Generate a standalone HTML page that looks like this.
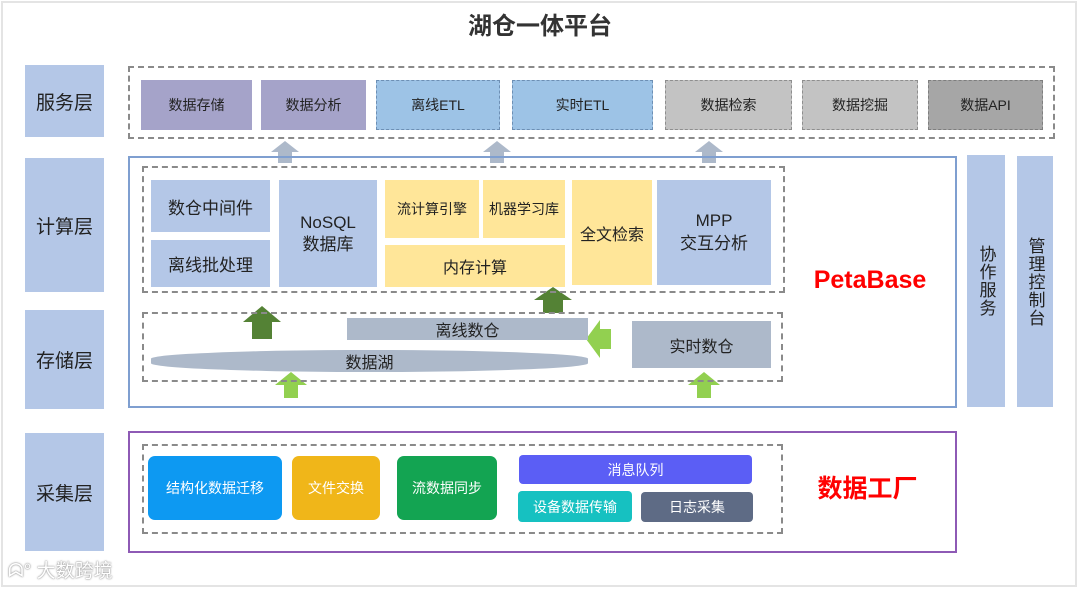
<!DOCTYPE html>
<html><head><meta charset="utf-8"><style>
*{margin:0;padding:0;box-sizing:border-box}
body{width:1080px;height:589px;background:#fff;position:relative;overflow:hidden;font-family:"Liberation Sans","Noto Sans CJK SC",sans-serif;color:#222}
.a{position:absolute}
.c{position:absolute;display:flex;align-items:center;justify-content:center;text-align:center}
.frame{position:absolute;left:1px;top:1px;width:1076px;height:586px;border:2px solid #e4e4e4}
.lab{background:#b4c7e7;font-size:19px;color:#222}
.dash{position:absolute;border:2px dashed #8a8a8a}
.s{font-size:14px;color:#222}
.bl{background:#b4c7e7;font-size:17px}
.yl{background:#ffe699;font-size:16px}
.g{background:#adb9ca;font-size:16px}
.w{color:#fff;font-size:14px;border-radius:7px}
.up{position:absolute;width:0;height:0}
</style></head><body>
<div class="frame"></div>
<div class="c" style="left:440px;top:6px;width:200px;height:34px;font-size:24px;font-weight:bold;color:#333">湖仓一体平台</div>

<div class="c lab" style="left:25px;top:65px;width:79px;height:72px">服务层</div>
<div class="c lab" style="left:25px;top:158px;width:79px;height:134px">计算层</div>
<div class="c lab" style="left:25px;top:310px;width:79px;height:99px">存储层</div>
<div class="c lab" style="left:25px;top:433px;width:79px;height:118px">采集层</div>

<div class="dash" style="left:128px;top:66px;width:927px;height:73px"></div>
<div class="c s" style="left:141px;top:80px;width:111px;height:50px;background:#a5a3c9">数据存储</div>
<div class="c s" style="left:261px;top:80px;width:105px;height:50px;background:#a5a3c9">数据分析</div>
<div class="c s" style="left:376px;top:80px;width:124px;height:50px;background:#9dc3e6;border:1px dashed #6d8fb4">离线ETL</div>
<div class="c s" style="left:512px;top:80px;width:141px;height:50px;background:#9dc3e6;border:1px dashed #6d8fb4">实时ETL</div>
<div class="c s" style="left:665px;top:80px;width:127px;height:50px;background:#c3c3c3;border:1px dashed #8e8e8e">数据检索</div>
<div class="c s" style="left:802px;top:80px;width:116px;height:50px;background:#c3c3c3;border:1px dashed #8e8e8e">数据挖掘</div>
<div class="c s" style="left:928px;top:80px;width:115px;height:50px;background:#a6a6a6;border:1px dashed #7e7e7e">数据API</div>

<svg class="a" style="left:0;top:0" width="1080" height="589">
<g fill="#adb9ca">
<polygon points="271,152 285,141 299,152 292,152 292,163 278,163 278,152"/>
<polygon points="483,152 497,141 511,152 504,152 504,163 490,163 490,152"/>
<polygon points="695,152 709,141 723,152 716,152 716,163 702,163 702,152"/>
</g>
<g fill="#548235">
<polygon points="243,322 262,306 281,322 272,322 272,339 252,339 252,322"/>
<polygon points="534,300 553,287 572,300 563,300 563,313 543,313 543,300"/>
</g>
<g fill="#92d050">
<polygon points="275,385 291,372 307,385 298,385 298,398 284,398 284,385"/>
<polygon points="688,385 704,372 720,385 711,385 711,398 697,398 697,385"/>
<polygon points="586,339 600,320 600,329 611,329 611,349 600,349 600,358"/>
</g>
</svg>

<div class="a" style="left:128px;top:156px;width:829px;height:252px;border:2px solid #7f9fd0"></div>
<div class="dash" style="left:142px;top:166px;width:643px;height:127px"></div>
<div class="c bl" style="left:151px;top:180px;width:119px;height:52px">数仓中间件</div>
<div class="c bl" style="left:151px;top:240px;width:119px;height:47px">离线批处理</div>
<div class="c bl" style="left:279px;top:180px;width:98px;height:107px;line-height:1.25">NoSQL<br>数据库</div>
<div class="c yl" style="left:385px;top:180px;width:94px;height:58px;font-size:14px">流计算引擎</div>
<div class="c yl" style="left:483px;top:180px;width:82px;height:58px;font-size:14px">机器学习库</div>
<div class="c yl" style="left:385px;top:245px;width:180px;height:42px">内存计算</div>
<div class="c yl" style="left:572px;top:180px;width:80px;height:105px">全文检索</div>
<div class="c bl" style="left:657px;top:180px;width:114px;height:105px;line-height:1.3">MPP<br>交互分析</div>
<div class="c" style="left:800px;top:262px;width:140px;height:36px;font-size:25px;font-weight:bold;color:#f00">PetaBase</div>

<div class="dash" style="left:142px;top:312px;width:641px;height:70px"></div>
<div class="c g" style="left:347px;top:318px;width:241px;height:22px">离线数仓</div>
<div class="c g" style="left:151px;top:350px;width:437px;height:22px;border-radius:50%/40%">数据湖</div>
<div class="c g" style="left:632px;top:321px;width:139px;height:47px">实时数仓</div>

<div class="c lab" style="left:967px;top:155px;width:38px;height:252px;font-size:17px;writing-mode:vertical-rl;letter-spacing:1px">协作服务</div>
<div class="c lab" style="left:1017px;top:156px;width:36px;height:251px;font-size:17px;writing-mode:vertical-rl;letter-spacing:1px">管理控制台</div>

<div class="a" style="left:128px;top:431px;width:829px;height:122px;border:2px solid #8e5ab5"></div>
<div class="dash" style="left:142px;top:444px;width:641px;height:90px"></div>
<div class="c w" style="left:148px;top:456px;width:134px;height:64px;background:#0d99f2">结构化数据迁移</div>
<div class="c w" style="left:292px;top:456px;width:88px;height:64px;background:#f0b619">文件交换</div>
<div class="c w" style="left:397px;top:456px;width:100px;height:64px;background:#13a452">流数据同步</div>
<div class="c w" style="left:519px;top:455px;width:233px;height:29px;background:#5b5ef5;border-radius:4px">消息队列</div>
<div class="c w" style="left:518px;top:491px;width:114px;height:31px;background:#16c1c1;border-radius:4px">设备数据传输</div>
<div class="c w" style="left:641px;top:492px;width:112px;height:30px;background:#5e6b85;border-radius:4px">日志采集</div>
<div class="c" style="left:805px;top:468px;width:125px;height:38px;font-size:25px;font-weight:bold;color:#f00">数据工厂</div>

<div class="a" style="left:8px;top:556px;font-size:19px;color:#fff;text-shadow:0 0 2px #999,0 0 1px #777">ᗣ° 大数跨境</div>
</body></html>
